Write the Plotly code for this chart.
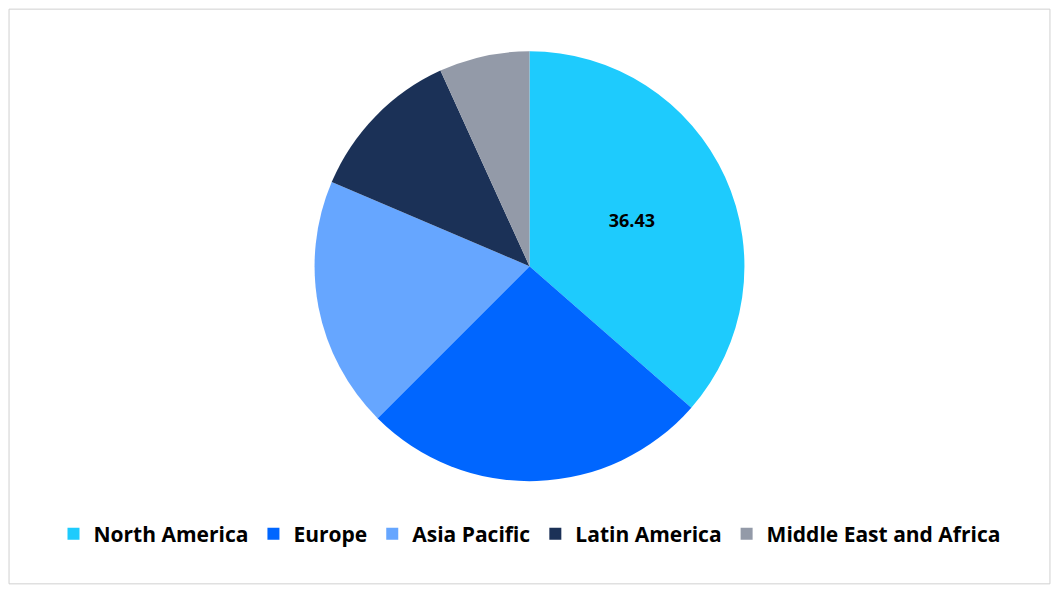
import plotly.graph_objects as go

regions = ["North America", "Europe", "Asia Pacific", "Latin America", "Middle East and Africa"]
shares = [36.43, 26.07, 18.9, 11.8, 6.8]
colors = ["#1ecbfd", "#0066ff", "#66a6ff", "#1b3157", "#939aa8"]
labels_shown = ["36.43", "", "", "", ""]

fig = go.Figure(go.Pie(
    labels=regions,
    values=shares,
    text=labels_shown,
    texttemplate="%{text}",
    textposition="inside",
    insidetextorientation="horizontal",
    textfont=dict(family="Open Sans", size=18, color="black", weight="bold"),
    marker=dict(colors=colors, line=dict(color="white", width=0)),
    sort=False,
    direction="clockwise",
    rotation=0,
    domain=dict(x=[0, 1], y=[0.18, 0.925]),
))
fig.update_layout(
    autosize=True,
    margin=dict(l=0, r=0, t=0, b=0),
    paper_bgcolor="white",
    showlegend=True,
    legend=dict(orientation="h", x=0.5, xanchor="center", y=0.088, yanchor="middle",
                font=dict(family="Open Sans", size=21, color="black", weight="bold"),
                itemwidth=30),
    shapes=[dict(type="rect", xref="paper", yref="paper", x0=0.001, y0=0.002, x1=0.999, y1=0.998,
                 line=dict(color="#d0d0d0", width=1))],
)
fig.write_html("out.html", default_width="100%", default_height="100%")
